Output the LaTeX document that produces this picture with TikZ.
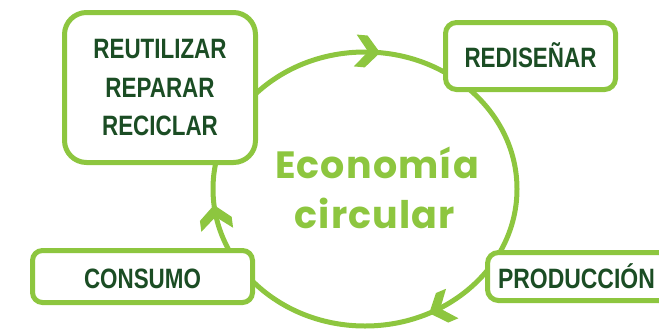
\documentclass[tikz,border=0pt]{standalone}
\usepackage{fontspec}
\setmainfont{Liberation Sans}
\newfontfamily\boxfont{Liberation Sans}[FakeStretch=0.8]
\newfontfamily\widebox{Liberation Sans}[FakeStretch=0.82]
\newfontfamily\popfont{Poppins}[LetterSpace=3]
\definecolor{lgreen}{RGB}{141,198,63}
\definecolor{dgreen}{RGB}{27,77,36}
\begin{document}
\begin{tikzpicture}[x=1pt,y=-1pt,
  gbox/.style={draw=lgreen, line width=5pt, fill=white, outer sep=0pt, text=dgreen,
    font=\boxfont\bfseries\fontsize{28}{38.5}\selectfont},
  onebox/.style={gbox, text height=23pt, text depth=0pt},
  bigtext/.style={text=lgreen, font=\popfont\bfseries\fontsize{38}{44}\selectfont},
  chev/.pic={\fill[lgreen] (0,0) -- (-14,16) -- (-25,16) -- (-12,0) -- (-25,-16) -- (-14,-16) -- cycle;}
]
\useasboundingbox (0,0) rectangle (659,330);
\clip (0,0) rectangle (659,330);
\coordinate (c) at (365,189);
\draw[lgreen, line width=5pt] (c) ellipse [x radius=152, y radius=137];
\pic[rotate=-5.1] at (380.1,52.7) {chev};
\pic[rotate=97.4] at (214,205) {chev};
\pic[rotate=-157.2] at (429.2,313.2) {chev};
\node[gbox, rounded corners=22pt, minimum width=191pt, minimum height=150pt, align=center]
  (reu) at (160,87.5) {REUTILIZAR\\REPARAR\\RECICLAR};
\node[onebox, rounded corners=10pt, minimum width=220pt, minimum height=52pt]
  (con) at (142.5,276.5) {CONSUMO};
\node[onebox, rounded corners=11pt, minimum width=170pt, minimum height=67pt]
  (red) at (530.5,56) {REDISEÑAR};
\node[onebox, rounded corners=11pt, minimum height=48pt, text width=225pt, inner xsep=10.5pt, align=left, anchor=west,
  font=\widebox\bfseries\fontsize{28}{38.5}\selectfont]
  (pro) at (487.5,276.5) {PRODUCCIÓN};
\node[bigtext, anchor=base] (eco) at (377,178) {Economía};
\node[bigtext, anchor=base] (cir) at (375,228) {circular};
\end{tikzpicture}
\end{document}
